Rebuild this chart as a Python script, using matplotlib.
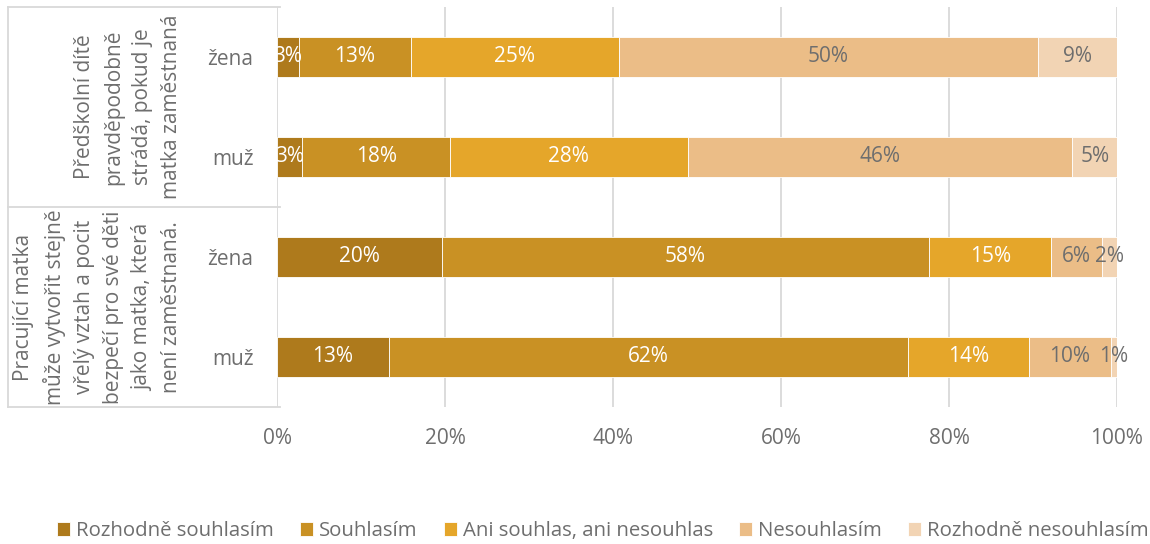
import matplotlib.pyplot as plt
import numpy as np

plt.rcParams['font.family'] = ['Open Sans', 'DejaVu Sans']

categories = ["žena", "muž", "žena", "muž"]
groups = ["Předškolní dítě\npravděpodobně\nstrádá, pokud je\nmatka zaměstnaná",
          "Pracující matka\nmůže vytvořit stejně\nvřelý vztah a pocit\nbezpečí pro své děti\njako matka, která\nnení zaměstnaná."]
series = ["Rozhodně souhlasím", "Souhlasím", "Ani souhlas, ani nesouhlas",
          "Nesouhlasím", "Rozhodně nesouhlasím"]
rozhodne_souhlasim = [2.6, 3.0, 19.6, 13.3]
souhlasim = [13.3, 17.6, 58.0, 61.8]
ani_ani = [24.8, 28.3, 14.6, 14.4]
nesouhlasim = [49.9, 45.8, 6.0, 9.8]
rozhodne_nesouhlasim = [9.4, 5.3, 1.8, 0.7]
xticks = [0, 20, 40, 60, 80, 100]

colors = ["#AE7A1C", "#C99124", "#E5A62A", "#EBBD87", "#F2D4B4"]
label_colors = ["white", "white", "white", "#6E6E6E", "#6E6E6E"]
gray = "#6E6E6E"

fig = plt.figure(figsize=(11.5, 5.44), dpi=100)
ax = fig.add_axes([277/1150, 1-407/544, 840/1150, 400/544])

ypos = np.arange(len(categories))[::-1]
data = [rozhodne_souhlasim, souhlasim, ani_ani, nesouhlasim, rozhodne_nesouhlasim]
left = np.zeros(len(categories))
for vals, name, c, lc in zip(data, series, colors, label_colors):
    vals = np.array(vals)
    ax.barh(ypos, vals, left=left, height=0.4, color=c, label=name,
            edgecolor='white', linewidth=0.6, zorder=3)
    for y, l, v in zip(ypos, left, vals):
        ax.text(l + v/2, y, f"{v:.0f}%", ha='center', va='center',
                color=lc, fontsize=15, zorder=4)
    left += vals

ax.set_xlim(0, 100)
ax.set_ylim(-0.5, 3.5)
ax.set_xticks(xticks)
ax.set_xticklabels([f"{t}%" for t in xticks], color=gray, fontsize=15)
ax.set_yticks(ypos)
ax.set_yticklabels(categories, color=gray, fontsize=15)
ax.tick_params(axis='both', length=0)
ax.tick_params(axis='x', pad=15)
ax.tick_params(axis='y', pad=17)
ax.grid(axis='x', color='#D9D9D9', linewidth=1.3, zorder=0)
for s in ax.spines.values():
    s.set_visible(False)

# group separators
trans = ax.get_yaxis_transform()
xl = (8 - 277) / 840
for yv in [3.5, 1.5, -0.5]:
    ax.plot([xl, 0.004], [yv, yv], color='#D9D9D9', lw=1.3, transform=trans, clip_on=False)
ax.plot([xl, xl], [-0.5, 3.5], color='#D9D9D9', lw=1.3, transform=trans, clip_on=False)

xg = (182 - 277) / 840
ax.text(xg, 2.5, groups[0], rotation=90, ha='right', va='center', multialignment='center',
        transform=trans, color=gray, fontsize=15, linespacing=1.5)
ax.text(xg, 0.5, groups[1], rotation=90, ha='right', va='center', multialignment='center',
        transform=trans, color=gray, fontsize=15, linespacing=1.5)

fig.legend(loc='center', bbox_to_anchor=(603/1150, 13/544), ncol=5, frameon=False,
           fontsize=14.7, handlelength=0.64, handleheight=0.64, handletextpad=0.3,
           columnspacing=1.27, labelcolor=gray)

fig.savefig("out.png", dpi=100)
